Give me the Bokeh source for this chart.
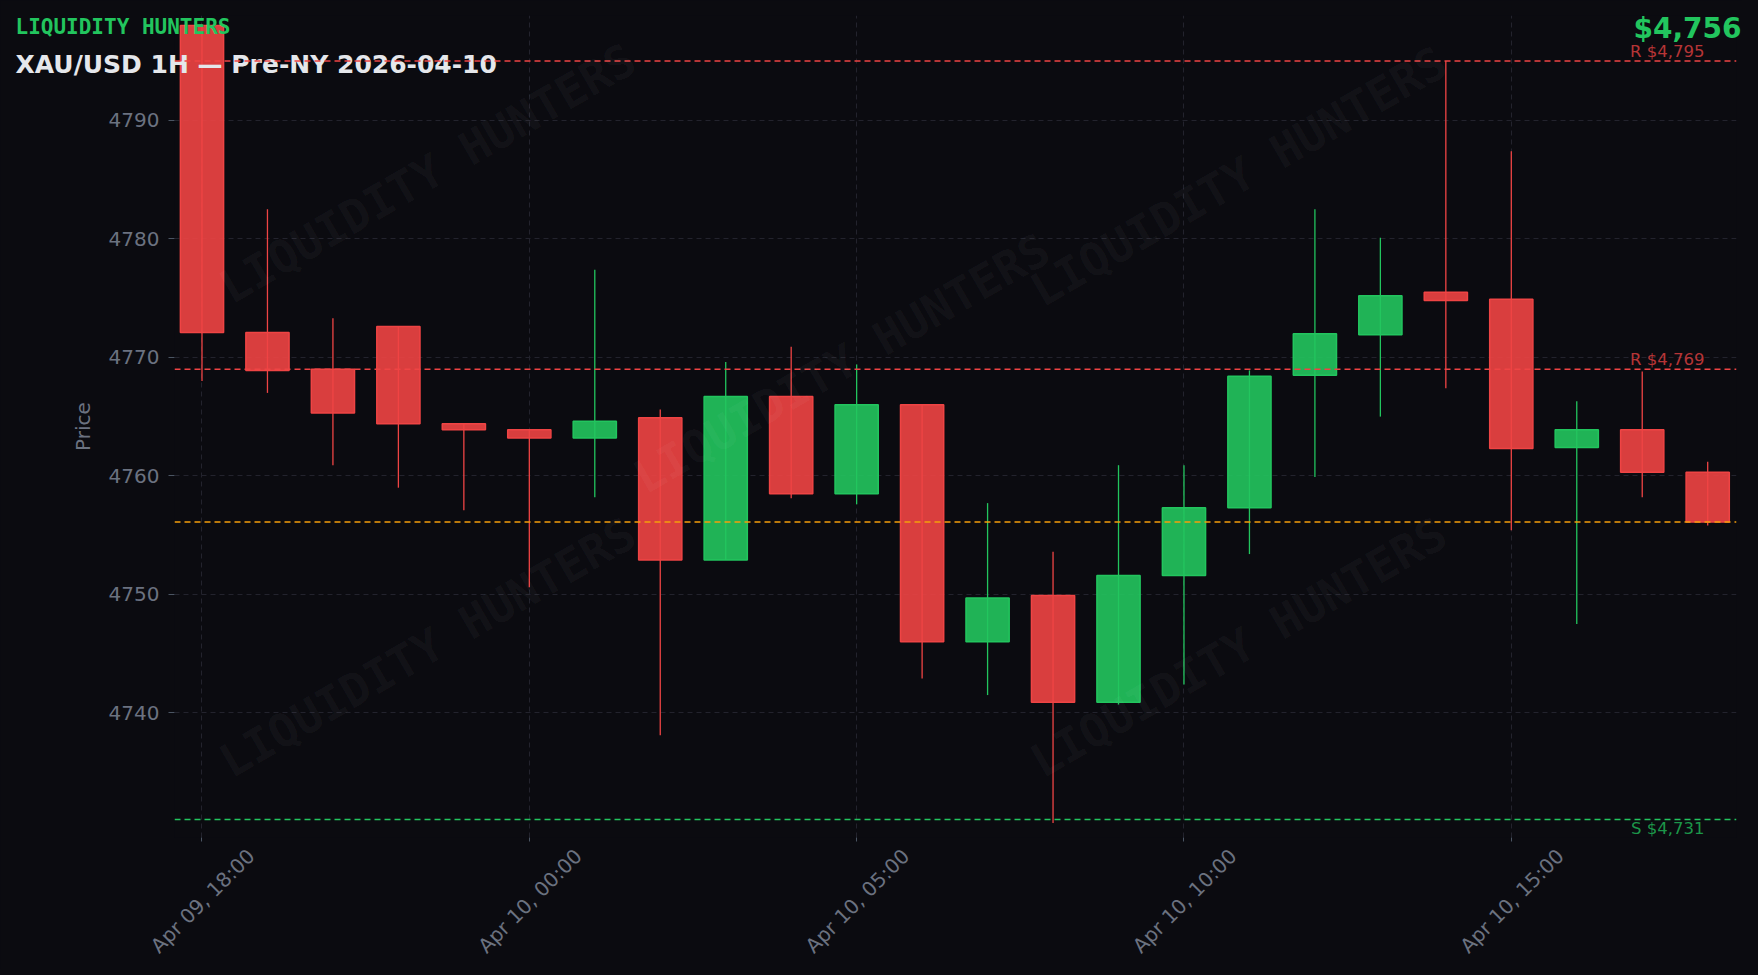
import math

from bokeh.plotting import figure
from bokeh.models import (Range1d, Label, Span, FixedTicker, ColumnDataSource,
                          LinearAxis, Title)
from bokeh.embed import file_html
from bokeh.resources import INLINE

try:
    from bokeh.models import GlobalInlineStyleSheet
except ImportError:
    GlobalInlineStyleSheet = None

# hourly candles, XAU/USD (index 0 = Apr 09 18:00)
opens = [4798.0, 4772.1, 4769.0, 4772.6, 4764.4, 4763.9, 4763.2, 4764.9,
         4752.9, 4766.7, 4758.5, 4766.0, 4746.0, 4749.9, 4740.9, 4751.6,
         4757.3, 4768.5, 4771.9, 4775.5, 4774.9, 4762.4, 4763.9, 4760.3]
highs = [4798.0, 4782.5, 4773.3, 4772.6, 4764.4, 4763.9, 4777.4, 4765.6,
         4769.6, 4770.9, 4769.4, 4766.0, 4757.7, 4753.6, 4760.9, 4760.9,
         4768.9, 4782.5, 4780.1, 4795.0, 4787.4, 4766.3, 4768.8, 4761.2]
lows = [4768.0, 4767.0, 4760.9, 4759.0, 4757.1, 4750.6, 4758.2, 4738.1,
        4752.9, 4758.1, 4757.6, 4742.9, 4741.5, 4730.7, 4740.7, 4742.4,
        4753.4, 4759.9, 4765.0, 4767.4, 4755.4, 4747.5, 4758.2, 4755.8]
closes = [4772.1, 4768.9, 4765.3, 4764.4, 4763.9, 4763.2, 4764.6, 4752.9,
          4766.7, 4758.5, 4766.0, 4746.0, 4749.7, 4740.9, 4751.6, 4757.3,
          4768.4, 4772.0, 4775.2, 4774.8, 4762.3, 4763.9, 4760.3, 4756.1]

tick_idx = [0, 5, 10, 15, 20]
tick_labels = ["Apr 09, 18:00", "Apr 10, 00:00", "Apr 10, 05:00",
               "Apr 10, 10:00", "Apr 10, 15:00"]
price_ticks = [4740, 4750, 4760, 4770, 4780, 4790]

resistance = [4795, 4769]
support = [4731]
last_price = 4756

BG = "#0b0b10"
UP = "#22c55e"
DOWN = "#ef4444"
AMBER = "#f59e0b"
MUTED = "#6b7280"
GRID = "#23232d"

n = len(opens)
xs = list(range(n))
colors = [UP if c >= o else DOWN for o, c in zip(opens, closes)]
src = ColumnDataSource(dict(
    x=xs, high=highs, low=lows,
    top=[max(o, c) for o, c in zip(opens, closes)],
    bottom=[min(o, c) for o, c in zip(opens, closes)],
    color=colors,
))

X0, X1 = -0.42, 23.44
p = figure(
    frame_width=1562, frame_height=822,
    output_backend="svg", toolbar_location=None,
    x_range=Range1d(X0, X1), y_range=Range1d(4729.48, 4798.85),
    min_border_left=174, min_border_right=6,
    min_border_top=15, min_border_bottom=0,
    background_fill_color=BG, border_fill_color=BG,
    outline_line_color=None,
)
if GlobalInlineStyleSheet is not None:
    p.stylesheets = [GlobalInlineStyleSheet(css=f"html, body {{ background-color: {BG}; }}")]

# wicks, then bodies
p.segment("x", "high", "x", "low", source=src, line_color="color", line_width=1.3)
p.vbar(x="x", width=0.66, top="top", bottom="bottom", source=src,
       fill_color="color", fill_alpha=0.9, line_color="color", line_width=1.5)

# key levels
for lvl in resistance:
    p.add_layout(Span(location=lvl, dimension="width", line_color=DOWN,
                      line_dash="6 4", line_width=1.5))
    p.add_layout(Label(x=1530, x_units="screen", y=lvl, y_units="data",
                       text=f"R ${lvl:,}", text_align="right", text_baseline="bottom",
                       y_offset=0, text_font="DejaVu Sans", text_font_size="16.5px",
                       text_color=DOWN, text_alpha=0.75))
for lvl in support:
    p.add_layout(Span(location=lvl, dimension="width", line_color=UP,
                      line_dash="6 4", line_width=1.5))
    p.add_layout(Label(x=1530, x_units="screen", y=lvl, y_units="data",
                       text=f"S ${lvl:,}", text_align="right", text_baseline="top",
                       y_offset=0, text_font="DejaVu Sans", text_font_size="16.5px",
                       text_color=UP, text_alpha=0.75))
p.add_layout(Span(location=closes[-1], dimension="width", line_color=AMBER,
                  line_dash="6 4", line_width=1.5))

# watermark
for wx, wy in [(253, 664), (1064, 661), (667, 474), (253, 190), (1064, 190)]:
    p.add_layout(Label(x=wx, y=wy, x_units="screen", y_units="screen",
                       text="LIQUIDITY HUNTERS", angle=math.radians(30),
                       text_align="center", text_baseline="middle",
                       text_font="DejaVu Sans Mono", text_font_style="bold",
                       text_font_size="46px", text_color="#ffffff", text_alpha=0.045))

# header texts: titles in the top panel, pulled down over the plot area
p.add_layout(Title(text="LIQUIDITY HUNTERS", align="left", vertical_align="bottom",
                   offset=-159, standoff=-47,
                   text_font="DejaVu Sans Mono", text_font_style="bold",
                   text_font_size="21px", text_color=UP), "above")
p.add_layout(Title(text="XAU/USD 1H \u2014 Pre-NY 2026-04-10", align="left",
                   vertical_align="bottom", offset=-159, standoff=-127,
                   text_font="DejaVu Sans", text_font_style="bold",
                   text_font_size="25px", text_color="#e5e7eb"), "above")
p.add_layout(Title(text=f"${last_price:,}", align="right", vertical_align="bottom",
                   offset=-5, standoff=-58,
                   text_font="DejaVu Sans", text_font_style="bold",
                   text_font_size="28px", text_color=UP), "above")

# axes: main x axis carries the ticks, a shifted twin carries the labels
p.xaxis.ticker = FixedTicker(ticks=tick_idx)
p.xaxis.major_label_overrides = {i: "" for i in tick_idx}
p.xaxis.major_label_standoff = 0

shift = 0.75
p.extra_x_ranges = {"lbl": Range1d(X0 - shift, X1 - shift)}
lbl_axis = LinearAxis(x_range_name="lbl", ticker=FixedTicker(ticks=tick_idx),
                      major_label_overrides=dict(zip(tick_idx, tick_labels)),
                      major_label_orientation=math.pi / 4)
p.add_layout(lbl_axis, "below")

p.yaxis.ticker = FixedTicker(ticks=price_ticks)
p.yaxis.axis_label = "Price"
p.yaxis.axis_label_text_font_style = "normal"
p.yaxis.axis_label_text_font = "DejaVu Sans"
p.yaxis.axis_label_text_font_size = "20px"
p.yaxis.axis_label_text_color = MUTED
p.yaxis.axis_label_standoff = 11

for ax in (p.xaxis[0], lbl_axis, p.yaxis[0]):
    ax.axis_line_color = None
    ax.major_tick_line_color = "#4b5563"
    ax.major_tick_out = 6
    ax.major_tick_in = 0
    ax.minor_tick_line_color = None
    ax.major_label_text_color = MUTED
    ax.major_label_text_font = "DejaVu Sans"
    ax.major_label_text_font_size = "20px"
p.yaxis.major_label_standoff = 9
p.xaxis[0].major_tick_out = 4
lbl_axis.major_tick_line_color = None
lbl_axis.major_tick_out = 0
lbl_axis.major_label_standoff = 11

p.grid.grid_line_color = GRID
p.grid.grid_line_dash = "5 4"
p.grid.grid_line_width = 1

open("out.html", "w").write(file_html(p, INLINE))
